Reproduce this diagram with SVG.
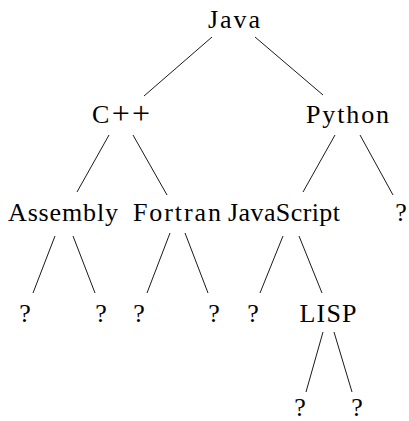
<svg xmlns="http://www.w3.org/2000/svg" width="409" height="421" viewBox="0 0 409 421">
<style>
text{font-family:"Liberation Serif","Times New Roman",serif;font-size:26px;fill:#000;text-anchor:middle}
.e line{stroke:#000;stroke-width:0.9;stroke-linecap:butt}
</style>
<rect width="409" height="421" fill="#fff"/>
<g class="e" id="connectors">
<line x1="212" y1="37" x2="144" y2="96"/>
<line x1="255" y1="37" x2="323" y2="95"/>
<line x1="109" y1="135" x2="77" y2="192"/>
<line x1="133" y1="135" x2="167" y2="195"/>
<line x1="335" y1="135" x2="303" y2="192"/>
<line x1="360" y1="135" x2="393" y2="195"/>
<line x1="55" y1="236" x2="33" y2="293"/>
<line x1="73" y1="236" x2="95" y2="293"/>
<line x1="170" y1="233" x2="147" y2="293"/>
<line x1="185" y1="233" x2="208" y2="293"/>
<line x1="283" y1="236" x2="260" y2="293"/>
<line x1="299" y1="236" x2="322" y2="293"/>
<line x1="323" y1="332" x2="306" y2="392"/>
<line x1="334" y1="332" x2="352" y2="392"/>
</g>
<g id="java"><text x="234" y="28" textLength="52">Java</text></g>
<g id="cpp"><text x="121" y="123" textLength="58">C<tspan font-size="32" dy="1">++</tspan></text></g>
<g id="python"><text x="347.5" y="123" textLength="83">Python</text></g>
<g id="assembly"><text x="63" y="221" textLength="110">Assembly</text></g>
<g id="fortran"><text x="177" y="221" textLength="88">Fortran</text></g>
<g id="javascript"><text x="284" y="221" textLength="112">JavaScript</text></g>
<g id="q-python"><text x="401" y="221">?</text></g>
<g id="q1"><text x="25" y="322">?</text></g>
<g id="q2"><text x="101" y="322">?</text></g>
<g id="q3"><text x="139" y="322">?</text></g>
<g id="q4"><text x="214" y="322">?</text></g>
<g id="q5"><text x="253" y="322">?</text></g>
<g id="lisp"><text x="328" y="322" textLength="57">LISP</text></g>
<g id="q6"><text x="300" y="416">?</text></g>
<g id="q7"><text x="357" y="416">?</text></g>
</svg>
